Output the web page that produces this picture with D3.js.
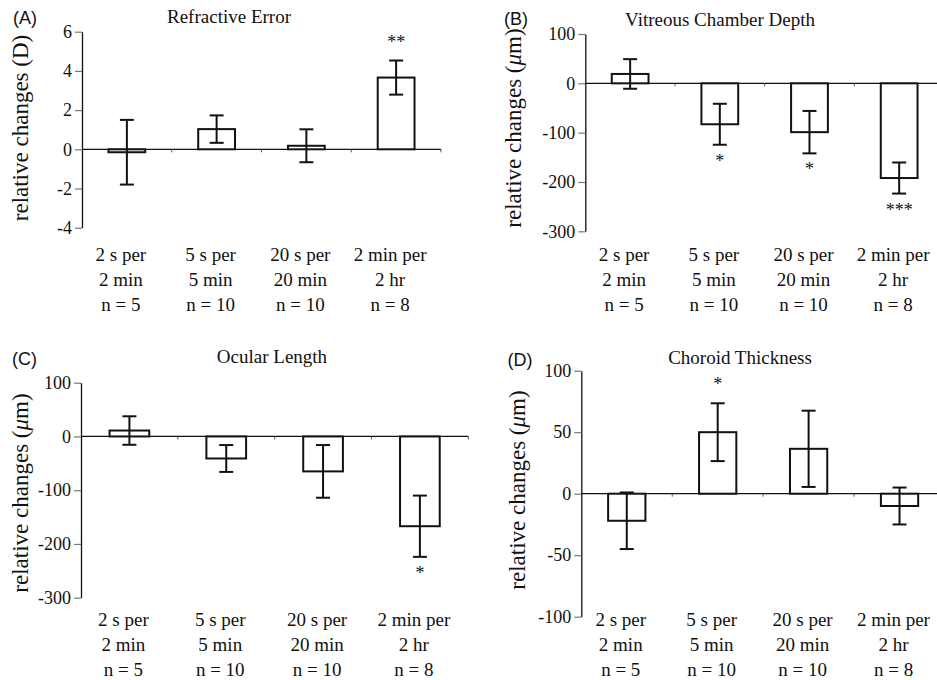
<!DOCTYPE html>
<html>
<head>
<meta charset="utf-8">
<script src="https://cdn.jsdelivr.net/npm/d3@7"></script>
<style>
  body { margin: 0; background: #fff; }
  svg { display: block; }
  text, tspan { font-family: "Liberation Serif", "Times New Roman", serif; fill: #111; }
  .letter { font-family: "Liberation Sans", Arial, sans-serif; font-size: 18px; }
</style>
</head>
<body>
<div id="chart"></div>
<script>
// categories (three text lines each)
var categories = [
  ["2 s per", "2 min", "n = 5"],
  ["5 s per", "5 min", "n = 10"],
  ["20 s per", "20 min", "n = 10"],
  ["2 min per", "2 hr", "n = 8"]
];

// (A) refractive error, D
var refractiveMean = [-0.15, 1.03, 0.18, 3.66];
var refractiveErr = [1.65, 0.70, 0.84, 0.87];
var refractiveStars = ["", "", "", "**"];
var refractiveTicks = [-4, -2, 0, 2, 4, 6];

// (B) vitreous chamber depth, um
var vitreousMean = [19, -83, -99, -192];
var vitreousErr = [30, 41.5, 43, 31.5];
var vitreousStars = ["", "*", "*", "***"];
var vitreousTicks = [-300, -200, -100, 0, 100];

// (C) ocular length, um
var ocularMean = [11, -41, -65, -167];
var ocularErr = [26.5, 25, 49, 57];
var ocularStars = ["", "", "", "*"];
var ocularTicks = [-300, -200, -100, 0, 100];

// (D) choroid thickness, um
var choroidMean = [-22, 50, 36.5, -10];
var choroidErr = [23, 23.5, 31, 15];
var choroidStars = ["", "*", "", ""];
var choroidTicks = [-100, -50, 0, 50, 100];

var W = 937, H = 680;
var serif = "'Liberation Serif', 'Times New Roman', serif";

var svg = d3.select("#chart")
  .append("svg")
  .attr("width", W)
  .attr("height", H)
  .attr("font-family", serif);

// panel layout
var panels = [
  {letter: "(A)", title: "Refractive Error", unit: "D",
   mean: refractiveMean, err: refractiveErr, stars: refractiveStars, ticks: refractiveTicks,
   left: 82, right: 441, top: 31.7, bottom: 227.7, lineEnd: 441,
   titleX: 229, titleY: 23, letterX: 13, letterY: 24,
   ylabX: 28, ylabY: 128, labY: 261},
  {letter: "(B)", title: "Vitreous Chamber Depth", unit: "um",
   mean: vitreousMean, err: vitreousErr, stars: vitreousStars, ticks: vitreousTicks,
   left: 585.3, right: 944, top: 34, bottom: 231.3, lineEnd: 937,
   titleX: 720, titleY: 25.5, letterX: 504, letterY: 25,
   ylabX: 521, ylabY: 128, labY: 261},
  {letter: "(C)", title: "Ocular Length", unit: "um",
   mean: ocularMean, err: ocularErr, stars: ocularStars, ticks: ocularTicks,
   left: 81, right: 468.3, top: 382.7, bottom: 597.7, lineEnd: 468.3,
   titleX: 272, titleY: 363, letterX: 12, letterY: 365,
   ylabX: 28, ylabY: 493, labY: 625.5},
  {letter: "(D)", title: "Choroid Thickness", unit: "um",
   mean: choroidMean, err: choroidErr, stars: choroidStars, ticks: choroidTicks,
   left: 581.3, right: 945, top: 370.7, bottom: 616.7, lineEnd: 937,
   titleX: 740, titleY: 364, letterX: 507.5, letterY: 366,
   ylabX: 525, ylabY: 490, labY: 626}
];

// plain hyphen for negative numbers, as in the original
var fmt = function(d) { return (d < 0 ? "-" : "") + Math.abs(d); };

panels.forEach(function(p) {
  var g = svg.append("g");

  var x = d3.scaleBand()
    .domain(d3.range(categories.length))
    .range([p.left, p.right]);

  var y = d3.scaleLinear()
    .domain(d3.extent(p.ticks))
    .range([p.bottom, p.top]);

  // y axis
  var yAxis = g.append("g")
    .attr("transform", "translate(" + p.left + ",0)")
    .call(d3.axisLeft(y).tickValues(p.ticks).tickSize(7).tickSizeOuter(0).tickFormat(fmt));
  yAxis.attr("font-family", serif).attr("font-size", 18);
  yAxis.select(".domain").attr("stroke", "#111").attr("stroke-width", 1.3);
  yAxis.selectAll(".tick line").attr("stroke", "#777").attr("stroke-width", 1.2);
  yAxis.selectAll(".tick text")
    .attr("x", -10)
    .attr("fill", "#111");

  // zero line with small ticks between categories
  g.append("line")
    .attr("x1", p.left).attr("x2", p.lineEnd)
    .attr("y1", y(0)).attr("y2", y(0))
    .attr("stroke", "#111").attr("stroke-width", 1.3);

  g.selectAll(".ztick")
    .data(d3.range(1, categories.length + 1))
    .enter()
    .append("line")
    .attr("x1", function(d) { return p.left + d * x.bandwidth(); })
    .attr("x2", function(d) { return p.left + d * x.bandwidth(); })
    .attr("y1", y(0)).attr("y2", y(0) + 3)
    .attr("stroke", "#555").attr("stroke-width", 1);

  var bw = x.bandwidth() * 0.41;
  var cx = function(i) { return x(i) + x.bandwidth() / 2; };

  // bars
  g.selectAll(".bar")
    .data(p.mean)
    .enter()
    .append("rect")
    .attr("x", function(d, i) { return cx(i) - bw / 2; })
    .attr("width", bw)
    .attr("y", function(d) { return y(Math.max(0, d)); })
    .attr("height", function(d) { return Math.abs(y(d) - y(0)); })
    .attr("fill", "#fff")
    .attr("stroke", "#111")
    .attr("stroke-width", 2);

  // error bars
  var eb = g.selectAll(".err")
    .data(p.mean)
    .enter()
    .append("g")
    .attr("stroke", "#111")
    .attr("stroke-width", 2);
  eb.append("line")
    .attr("x1", function(d, i) { return cx(i); })
    .attr("x2", function(d, i) { return cx(i); })
    .attr("y1", function(d, i) { return y(d + p.err[i]); })
    .attr("y2", function(d, i) { return y(d - p.err[i]); });
  [1, -1].forEach(function(s) {
    eb.append("line")
      .attr("x1", function(d, i) { return cx(i) - 7; })
      .attr("x2", function(d, i) { return cx(i) + 7; })
      .attr("y1", function(d, i) { return y(d + s * p.err[i]); })
      .attr("y2", function(d, i) { return y(d + s * p.err[i]); });
  });

  // significance stars
  g.selectAll(".star")
    .data(p.mean)
    .enter()
    .append("text")
    .attr("x", function(d, i) { return cx(i); })
    .attr("y", function(d, i) {
      return d >= 0 ? y(d + p.err[i]) - 13 : y(d - p.err[i]) + 22;
    })
    .attr("text-anchor", "middle")
    .style("font-size", "18px")
    .attr("fill", "#333")
    .text(function(d, i) { return p.stars[i]; });

  // category labels
  categories.forEach(function(lines, i) {
    g.append("text")
      .attr("text-anchor", "middle")
      .style("font-size", "19px")
      .selectAll("tspan")
      .data(lines)
      .enter()
      .append("tspan")
      .attr("x", cx(i) - 6)
      .attr("y", function(d, j) { return p.labY + j * 25; })
      .text(function(d) { return d; });
  });

  // title
  g.append("text")
    .attr("x", p.titleX).attr("y", p.titleY)
    .attr("text-anchor", "middle")
    .style("font-size", "19px")
    .text(p.title);

  // panel letter
  g.append("text")
    .attr("class", "letter")
    .attr("x", p.letterX).attr("y", p.letterY)
    .text(p.letter);

  // y label
  var yl = g.append("text")
    .attr("transform", "translate(" + p.ylabX + "," + p.ylabY + ") rotate(-90)")
    .attr("text-anchor", "middle")
    .style("font-size", "23px");
  yl.append("tspan").text("relative changes (");
  if (p.unit === "um") {
    yl.append("tspan").style("font-style", "italic").text("\u03bc");
    yl.append("tspan").text("m)");
  } else {
    yl.append("tspan").text("D)");
  }
});
</script>
</body>
</html>
